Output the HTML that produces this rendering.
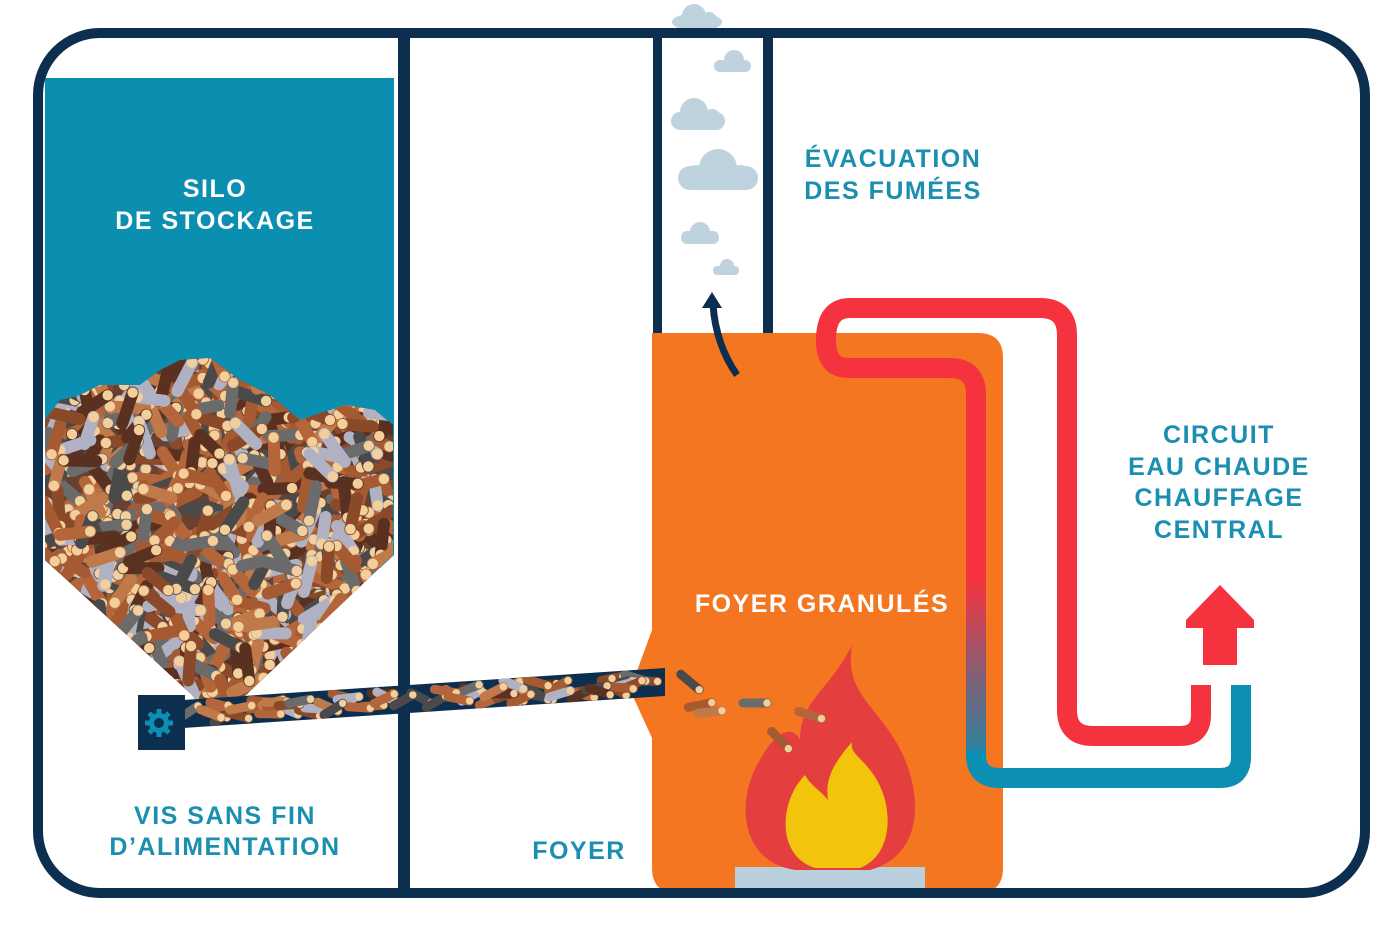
<!DOCTYPE html>
<html><head><meta charset="utf-8"><style>
html,body{margin:0;padding:0;background:#fff;}
svg{display:block}
text{font-family:"Liberation Sans",sans-serif;font-weight:bold;font-size:25px;letter-spacing:1.5px;text-anchor:middle}
</style></head><body>
<svg id="s" width="1400" height="945" viewBox="0 0 1400 945" xmlns="http://www.w3.org/2000/svg">
<defs>
<linearGradient id="pg" gradientUnits="userSpaceOnUse" x1="0" y1="580" x2="0" y2="780">
<stop offset="0" stop-color="#f5333f"/><stop offset="1" stop-color="#0b8fb3"/></linearGradient>
<clipPath id="heap"><polygon points="45,420 60,400 80,395 100,385 140,385 160,370 180,360 210,358 240,380 270,395 300,420 330,410 345,405 375,410 393,425 393,555 225,715 205,715 192,695 45,560"/></clipPath>
<clipPath id="tube"><polygon points="183,700 665,668 665,696 183,728"/></clipPath>
</defs>
<!-- top cloud -->
<g fill="#bfd3df">
<g transform="translate(697,22)"><ellipse cx="0" cy="0" rx="25" ry="9"/><circle cx="-3" cy="-6" r="12"/><circle cx="12" cy="-2" r="8"/></g>
</g>
<rect x="38" y="33" width="1327" height="860" rx="62" fill="#fff"/>
<!-- silo -->
<rect x="45" y="78" width="349" height="490" fill="#0a8fb0"/>
<polygon points="45,560 45,890 394,890 394,555 225,715 205,715" fill="#fff"/>
<g clip-path="url(#heap)"><rect x="40" y="340" width="360" height="400" fill="#6a4030"/><g id="heapg"></g></g>
<rect x="398" y="33" width="12" height="864" fill="#0d2f4f"/>
<!-- chimney -->
<rect x="653" y="33" width="9" height="300" fill="#0d2f4f"/>
<rect x="763" y="33" width="10" height="300" fill="#0d2f4f"/>
<g fill="#bfd3df">
<g transform="translate(732,66)"><rect x="-18" y="-6" width="37" height="12" rx="6"/><circle cx="2" cy="-6" r="10"/></g>
<g transform="translate(698,121)"><rect x="-27" y="-9" width="54" height="18" rx="9"/><circle cx="-4" cy="-9" r="14"/><circle cx="14" cy="-3" r="9"/></g>
<g transform="translate(718,178)"><rect x="-40" y="-12" width="80" height="24" rx="12"/><circle cx="0" cy="-10" r="19"/><circle cx="-22" cy="-3" r="10"/><circle cx="22" cy="-2" r="11"/></g>
<g transform="translate(700,237)"><rect x="-19" y="-6" width="38" height="13" rx="6"/><circle cx="0" cy="-5" r="10"/></g>
<g transform="translate(726,270)"><rect x="-13" y="-4" width="26" height="9" rx="4"/><circle cx="1" cy="-4" r="7"/></g>
</g>
<!-- boiler -->
<path d="M652,333 H978 Q1003,333 1003,358 V868 Q1003,893 978,893 H677 Q652,893 652,868 V738 L630,690 L652,630 Z" fill="#f47620"/>
<rect x="735" y="867" width="190" height="26" fill="#b9cfdc"/>
<!-- smoke arrow -->
<path d="M737,375 Q716,345 713,305" fill="none" stroke="#0d2f4f" stroke-width="7"/>
<polygon points="712,292 702,308 722,308" fill="#0d2f4f"/>
<!-- flame -->
<path d="M852,645 C830,690 800,700 800,740 C790,720 770,740 760,760 C735,800 740,862 795,870 L870,870 C925,855 925,790 895,740 C870,700 845,690 852,645 Z" fill="#e53e3e"/>
<path d="M852,742 C832,765 825,780 828,800 C820,790 810,785 805,775 C780,800 775,855 815,868 L860,868 C895,855 895,800 870,770 C858,755 850,752 852,742 Z" fill="#f2c40c"/>
<!-- pipes -->
<path d="M1067,560 V710 Q1067,736 1093,736 H1180 Q1201,736 1201,715 V685" fill="none" stroke="#f5333f" stroke-width="20"/>
<path d="M976,600 V395 Q976,368 950,368 H848 Q826,368 826,340 Q826,308 850,308 H1040 Q1067,308 1067,335 V570" fill="none" stroke="#f5333f" stroke-width="20"/>
<path d="M976,740 V755 Q976,778 1000,778 H1220 Q1241,778 1241,757 V685" fill="none" stroke="#0b8fb3" stroke-width="20"/>
<rect x="966" y="570" width="20" height="180" fill="url(#pg)"/>
<polygon points="1220,585 1186,620 1186,628 1203,628 1203,665 1237,665 1237,628 1254,628 1254,620" fill="#f5333f"/>
<!-- conveyor -->
<polygon points="183,700 665,668 665,696 183,728" fill="#0d2f4f"/>
<g clip-path="url(#tube)"><g id="tubeg"></g></g>
<rect x="138" y="695" width="47" height="55" fill="#0d2f4f"/>
<g transform="translate(159,723)" fill="#0b8fb3">
<circle r="10"/><g id="teeth"></g><circle r="5" fill="#0d2f4f"/>
</g>
<g id="loose"></g>
<!-- frame -->
<rect x="38" y="33" width="1327" height="860" rx="62" fill="none" stroke="#0d2f4f" stroke-width="10"/>
<!-- texts -->
<text x="215" y="197" fill="#fff">SILO</text>
<text x="215" y="229" fill="#fff">DE STOCKAGE</text>
<text x="893" y="167" fill="#1a8fb0">ÉVACUATION</text>
<text x="893" y="199" fill="#1a8fb0">DES FUMÉES</text>
<text x="1219" y="443" fill="#1a8fb0">CIRCUIT</text>
<text x="1219" y="475" fill="#1a8fb0">EAU CHAUDE</text>
<text x="1219" y="506" fill="#1a8fb0">CHAUFFAGE</text>
<text x="1219" y="538" fill="#1a8fb0">CENTRAL</text>
<text x="822" y="612" fill="#fff">FOYER GRANULÉS</text>
<text x="225" y="824" fill="#1a8fb0">VIS SANS FIN</text>
<text x="225" y="855" fill="#1a8fb0">D’ALIMENTATION</text>
<text x="579" y="859" fill="#1a8fb0">FOYER</text>
</svg>
<script>
(function(){
var NS="http://www.w3.org/2000/svg";
var seed=7;function r(){seed=(seed*16807)%2147483647;return seed/2147483647;}
var cols=["#b5653a","#8a4a2a","#6b6b6b","#b0b2c4","#5a3020","#c07a4a","#4a4a4a","#a65a32"];
function pellet(g,x,y,a,len,w){
 var c=cols[Math.floor(r()*cols.length)];
 var dx=Math.cos(a)*len/2,dy=Math.sin(a)*len/2;
 var l=document.createElementNS(NS,"line");
 l.setAttribute("x1",x-dx);l.setAttribute("y1",y-dy);l.setAttribute("x2",x+dx);l.setAttribute("y2",y+dy);
 l.setAttribute("stroke",c);l.setAttribute("stroke-width",w);l.setAttribute("stroke-linecap","round");g.appendChild(l);
 var e=document.createElementNS(NS,"circle");e.setAttribute("cx",x+dx);e.setAttribute("cy",y+dy);e.setAttribute("r",w/2-0.8);e.setAttribute("fill","#f3cf9c");g.appendChild(e);
}
var h=document.getElementById("heapg");
for(var i=0;i<1100;i++){pellet(h,40+r()*360,350+r()*375,r()*Math.PI*2,26+r()*10,12);}
var t=document.getElementById("tubeg");
for(var i=0;i<70;i++){var x=185+r()*480;var y=714-(x-183)*32/482+(r()-0.5)*16;pellet(t,x,y,(r()-0.5)*1.2,22,9);}
var lo=document.getElementById("loose");
[[690,682,0.7],[700,705,-0.2],[755,703,0],[810,715,0.3],[780,740,0.8],[710,712,-0.1]].forEach(function(p){pellet(lo,p[0],p[1],p[2],24,9);});
var te=document.getElementById("teeth");
for(var k=0;k<8;k++){var rr=document.createElementNS(NS,"rect");rr.setAttribute("x",-2.5);rr.setAttribute("y",-14);rr.setAttribute("width",5);rr.setAttribute("height",6);rr.setAttribute("transform","rotate("+k*45+")");te.appendChild(rr);}
})();
</script>
</body></html>
